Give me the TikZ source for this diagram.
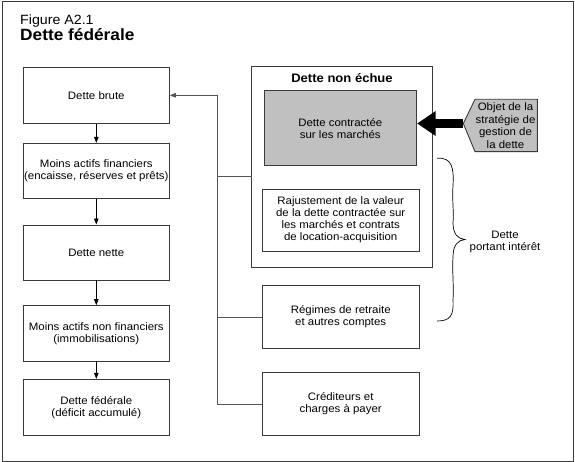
\documentclass[tikz,border=0pt]{standalone}
\usepackage{fontspec}
\setmainfont{Liberation Sans}[FakeStretch=1.06]
\usetikzlibrary{arrows.meta}
\definecolor{boxline}{HTML}{3A3A3A}
\definecolor{connline}{HTML}{555555}
\definecolor{greyfill}{HTML}{C0C0C0}
\begin{document}
\begin{tikzpicture}[x=1pt,y=-1pt,
  txt/.style={align=center, font=\fontsize{10.8}{12}\selectfont},
  box/.style={txt, draw=boxline, line width=0.9pt, fill=white, inner sep=0pt},
  leftbox/.style={box, minimum width=146pt, minimum height=55pt},
  rightbox/.style={box, minimum width=156.7pt, minimum height=62.3pt},
  conn/.style={draw=connline, line width=0.8pt},
  arr/.style={draw=black, line width=0.8pt},
  tip/.style={-{Triangle[length=6pt,width=4.5pt]}}]
\useasboundingbox (0,0) rectangle (575,462);
\draw[boxline, line width=1pt] (2,1.5) rectangle (573,461);
\node[anchor=base west, inner sep=0pt, font=\fontsize{13.4}{16}\selectfont] (fig) at (20,24.3) {Figure A2.1};
\node[anchor=base west, inner sep=0pt, font=\bfseries\fontsize{16.3}{18}\selectfont] (titre) at (20,41) {Dette fédérale};
% left column
\node[leftbox, minimum height=56pt] (brute) at (96.3,95.3) {Dette brute};
\node[leftbox] (actifs) at (96.3,170.8) {Moins actifs financiers\\(encaisse, réserves et prêts)};
\node[leftbox] (nette) at (96.3,252.5) {Dette nette};
\node[leftbox, minimum height=55.3pt] (nonfin) at (96.3,333.3) {Moins actifs non financiers\\(immobilisations)};
\node[leftbox, minimum height=55.7pt] (fed) at (96.3,407.2) {Dette fédérale\\(déficit accumulé)};
\draw[arr,tip] (brute) -- (actifs);
\draw[arr,tip] (actifs) -- (nette);
\draw[arr,tip] (nette) -- (nonfin);
\draw[arr,tip] (nonfin) -- (fed);
% right column
\node[box, minimum width=180.6pt, minimum height=201.3pt] (dne) at (342,166.7) {};
\node[txt, font=\bfseries\fontsize{12.3}{14}\selectfont, inner sep=0pt] (dnetitle) at (342,78.5) {Dette non échue};
\node[box, fill=greyfill, minimum width=152.7pt, minimum height=75.3pt] (grey) at (340.3,128.3) {Dette contractée\\sur les marchés};
\node[rightbox, minimum height=61.7pt] (raj) at (340.7,220.2) {Rajustement de la valeur\\de la dette contractée sur\\les marchés et contrats\\de location-acquisition};
\node[rightbox, minimum height=62.6pt] (reg) at (340.7,317) {Régimes de retraite\\et autres comptes};
\node[rightbox] (cred) at (340.7,403.9) {Créditeurs et\\charges à payer};
% connectors
\coordinate (spine) at (217.3,95.3);
\coordinate (dnew) at (251.7,176.7);
\draw[conn,tip] (cred.west) -| (spine) -- (brute.east);
\draw[conn] (reg.west) -- (spine |- reg.west);
\draw[conn] (dnew) -- (spine |- dnew);
% hexagon
\coordinate (hexl) at (463.3,123.5);
\filldraw[fill=greyfill, draw=boxline, line width=0.9pt] (hexl) -- (475,99.3) -- (537.3,99.3) -- (537.3,151.7) -- (475,151.7) -- cycle;
\node[txt, font=\fontsize{10.8}{12.6}\selectfont, inner sep=0pt] (obj) at (505.5,125.5) {Objet de la\\stratégie de\\gestion de\\la dette};
\draw[black, line width=9pt, -{Triangle[length=18.5pt,width=23.5pt]}] (hexl) -- (grey.east |- hexl);
% brace
\draw[black, line width=0.7pt] (437,158.3) .. controls (452,157) and (454,168) .. (453,185)
  .. controls (452,200) and (454,212) .. (453,223)
  .. controls (453,234) and (458,239) .. (465,239.5)
  .. controls (458,240) and (453,245) .. (453,257)
  .. controls (452,270) and (454,288) .. (453,300)
  .. controls (454,316) and (450,321) .. (437,321);
\node[txt, inner sep=0pt] (portant) at (505,241.5) {Dette\\portant intérêt};
\end{tikzpicture}
\end{document}
